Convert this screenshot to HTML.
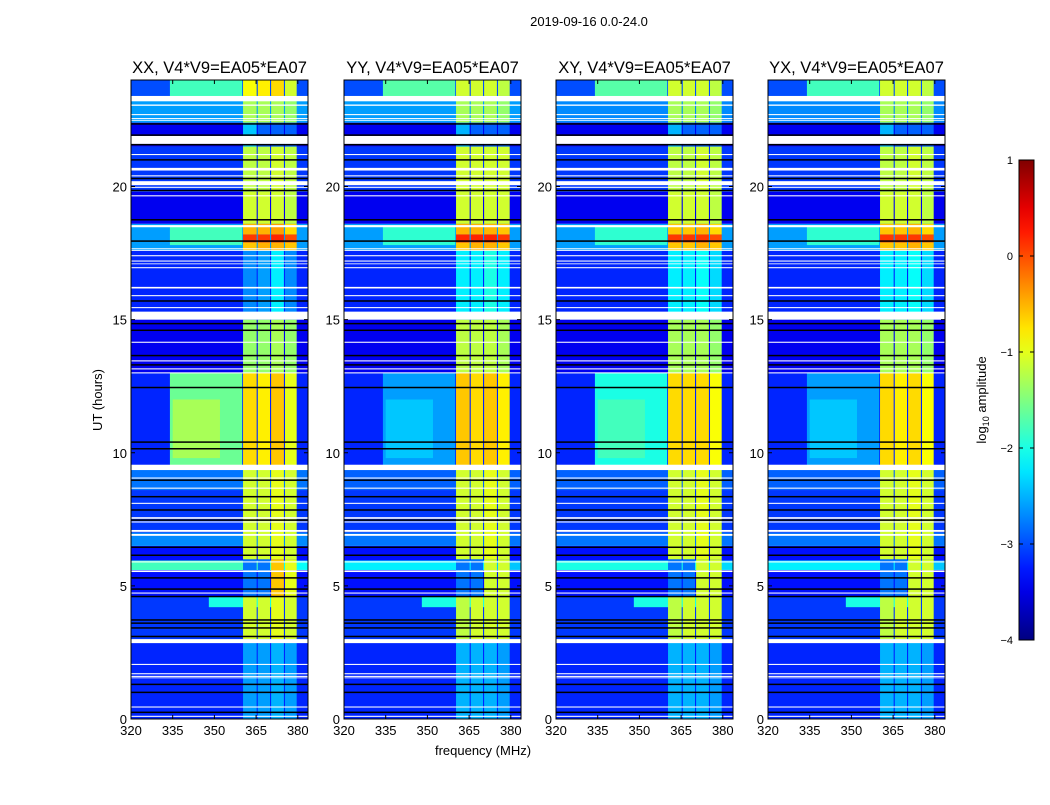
<!DOCTYPE html>
<html><head><meta charset="utf-8">
<style>
body{margin:0;background:#fff;width:1050px;height:800px;overflow:hidden;font-family:"Liberation Sans","DejaVu Sans",sans-serif;}
</style></head>
<body>
<svg id="fig" width="1050" height="800" xmlns="http://www.w3.org/2000/svg">
<text x="589" y="26" font-size="13" text-anchor="middle">2019-09-16 0.0-24.0</text>
<text x="483" y="755" font-size="13" text-anchor="middle">frequency (MHz)</text>
<text transform="translate(102,400) rotate(-90)" font-size="13" text-anchor="middle">UT (hours)</text>
<g id="panels"></g>
<g id="cbar"></g>
<text transform="translate(986,400) rotate(-90)" font-size="13" text-anchor="middle">log<tspan font-size="9" dy="3">10</tspan><tspan dy="-3"> amplitude</tspan></text>
</svg>
<script>
const panelNames = ["XX","YY","XY","YX"];
const panelLefts = [131,344,556,768];
const xTicks = [320,335,350,365,380];
const yTicks = [0,5,10,15,20];
const cbTicks = [1,0,-1,-2,-3,-4];
// background rows: [t0,t1,XX,YY,XY,YX]
const bgRows = [[0,3,-3.2,-3.2,-3.2,-3.2],[3,4.6,-3.1,-3.1,-3.1,-3.1],[4.6,5.6,-3.3,-3.3,-3.3,-3.3],[5.6,5.95,-2.1,-2.4,-2.3,-2.4],[5.95,6.5,-3.3,-3.3,-3.3,-3.3],[6.5,7.0,-2.7,-2.8,-2.8,-2.8],[7.0,8.6,-3.1,-3.1,-3.1,-3.1],[8.6,9.4,-2.8,-2.9,-2.9,-2.9],[9.4,13,-3.2,-3.2,-3.2,-3.2],[13,15,-3.45,-3.45,-3.45,-3.45],[15,17.6,-3.2,-3.2,-3.2,-3.2],[17.6,18.6,-2.6,-2.6,-2.6,-2.6],[18.6,19.8,-3.45,-3.45,-3.45,-3.45],[19.8,21.5,-3.1,-3.1,-3.1,-3.1],[21.5,22.4,-3.45,-3.45,-3.45,-3.45],[22.4,23.4,-2.6,-2.6,-2.7,-2.7],[23.4,24,-3.0,-3.0,-3.0,-3.0]];
// extra features: [t0,t1,f0,f1,XX,YY,XY,YX]
const features = [[9.5,13,334,360,-1.6,-2.6,-2.0,-2.6],[9.8,12,335,352,-1.3,-2.4,-1.8,-2.4],[17.8,18.5,334,360,-1.8,-1.9,-1.9,-1.9],[23.3,24,334,360,-1.8,-1.7,-1.7,-1.8],[4.2,4.6,348,374,-2.0,-2.0,-2.0,-2.0],[5.6,5.95,320,372,-1.8,-2.2,-2.0,-2.2]];
const bandEdges = [[360.3,365.2],[365.6,370],[370.4,375],[375.4,379.6]];
const bandRows = [[0,3],[3,4.6],[4.6,6],[6,9.4],[9.4,13],[13,15],[15,17.6],[17.6,17.9],[17.9,18.2],[18.2,18.6],[18.6,19.8],[19.8,21.5],[21.5,22.4],[22.4,23.4],[23.4,24]];
const bandXX = [[-2.6,-2.6,-2.5,-2.6],[-1.1,-1.1,-1.0,-1.1],[-2.8,-2.8,-0.6,-1.0],[-1.1,-1.1,-1.0,-1.1],[-0.7,-0.8,-0.6,-1.0],[-1.4,-1.4,-1.3,-1.4],[-2.7,-2.6,-2.2,-2.7],[-0.6,-0.5,-0.5,-0.6],[0.1,0.1,0.2,0.0],[-0.5,-0.5,-0.4,-0.7],[-1.1,-1.1,-1.1,-1.2],[-1.2,-1.2,-1.1,-1.2],[-2.4,-2.9,-2.9,-2.9],[-1.3,-1.3,-1.3,-1.4],[-0.9,-0.8,-0.7,-1.1]];
const bandYY = [[-2.5,-2.5,-2.5,-2.6],[-1.2,-1.1,-1.1,-1.1],[-2.8,-2.8,-1.1,-1.1],[-1.1,-1.1,-1.0,-1.1],[-0.6,-0.7,-0.6,-0.8],[-1.2,-1.2,-1.2,-1.3],[-2.2,-2.2,-2.0,-2.2],[-0.6,-0.5,-0.5,-0.6],[0.2,0.2,0.2,0.1],[-0.5,-0.5,-0.5,-0.6],[-1.1,-1.1,-1.1,-1.1],[-1.1,-1.1,-1.1,-1.1],[-2.5,-2.9,-2.9,-2.9],[-1.3,-1.3,-1.3,-1.4],[-1.1,-1.1,-1.1,-1.2]];
const bandXY = [[-2.5,-2.5,-2.5,-2.6],[-1.2,-1.1,-1.1,-1.1],[-2.8,-2.8,-1.1,-1.1],[-1.1,-1.1,-1.0,-1.1],[-0.7,-0.7,-0.7,-0.9],[-1.3,-1.3,-1.3,-1.4],[-2.2,-2.2,-2.1,-2.3],[-0.6,-0.6,-0.5,-0.6],[0.1,0.1,0.1,0.0],[-0.6,-0.6,-0.5,-0.7],[-1.1,-1.1,-1.1,-1.2],[-1.2,-1.2,-1.1,-1.2],[-2.5,-2.9,-2.9,-2.9],[-1.3,-1.3,-1.3,-1.4],[-1.1,-1.1,-1.1,-1.2]];
const bandYX = [[-2.5,-2.5,-2.5,-2.6],[-1.2,-1.1,-1.1,-1.1],[-2.8,-2.8,-1.1,-1.1],[-1.1,-1.1,-1.0,-1.1],[-0.7,-0.8,-0.7,-0.9],[-1.3,-1.3,-1.3,-1.4],[-2.2,-2.2,-2.1,-2.3],[-0.6,-0.6,-0.5,-0.6],[0.1,0.1,0.1,0.0],[-0.6,-0.6,-0.5,-0.7],[-1.1,-1.1,-1.1,-1.2],[-1.2,-1.2,-1.1,-1.2],[-2.5,-2.9,-2.9,-2.9],[-1.3,-1.3,-1.3,-1.4],[-1.1,-1.1,-1.1,-1.2]];
// flagged (white) intervals in hours
const flagRows = [[23.2,23.4],[23.03,23.08],[22.68,22.72],[22.53,22.57],[22.47,22.5],[21.6,21.9],[21.18,21.22],[20.6,20.7],[20.38,20.42],[20.05,20.2],[19.95,19.99],[19.63,19.67],[18.47,18.55],[17.64,17.68],[17.58,17.61],[17.38,17.42],[17.18,17.22],[17.08,17.11],[16.93,16.97],[16.17,16.23],[15.88,15.92],[15.43,15.47],[15.0,15.3],[14.13,14.17],[13.43,13.47],[13.13,13.17],[12.98,13.02],[9.35,9.55],[9.03,9.07],[8.65,8.69],[8.08,8.12],[7.52,7.58],[7.38,7.42],[7.03,7.1],[6.88,6.95],[5.88,5.92],[5.52,5.58],[4.71,4.75],[2.85,3.0],[2.03,2.07],[1.68,1.72],[1.58,1.62],[1.53,1.56],[0.43,0.47],[0.08,0.12]];
const blackRows = [22.35,21.93,21.57,21.0,20.3,19.85,18.75,17.95,15.7,14.85,14.6,13.65,13.3,12.45,10.4,10.15,8.97,8.35,7.85,7.47,6.45,6.15,5.3,4.88,4.6,3.72,3.6,3.42,3.1,1.3,1.0,0.25];

const NS="http://www.w3.org/2000/svg";
const PW=177, PT=80, PB=719, FMIN=320, FMAX=320+177/2.78, TMAX=24;
function el(tag,attrs,parent){const e=document.createElementNS(NS,tag);for(const k in attrs)e.setAttribute(k,attrs[k]);parent.appendChild(e);return e;}
function jet(v){let n=(v+4)/5;n=Math.max(0,Math.min(1,n));const c=x=>Math.round(255*Math.max(0,Math.min(1,x)));
 return `rgb(${c(1.5-Math.abs(4*n-3))},${c(1.5-Math.abs(4*n-2))},${c(1.5-Math.abs(4*n-1))})`;}
function yScale(t){return PB-(t/TMAX)*(PB-PT);}
const panelsG=document.getElementById('panels');
const bandSets=[bandXX,bandYY,bandXY,bandYX];
panelNames.forEach((nm,pi)=>{
 const L=panelLefts[pi];
 const xScale=f=>L+(f-FMIN)/(FMAX-FMIN)*PW;
 const g=el('g',{},panelsG);
 
 
 const t=el('text',{x:L+PW/2,y:73,'font-size':16.5,'text-anchor':'middle'},g);
 t.textContent=nm+', V4*V9=EA05*EA07';
 
 
 const hm=el('g',{},g);
 
 
 const rect=(t0,t1,f0,f1,fill)=>{const y0=yScale(t1),y1=yScale(t0);return el('rect',{x:xScale(f0),y:y0,width:xScale(f1)-xScale(f0),height:y1-y0,fill:fill},hm);};
 bgRows.forEach(r=>{const c=rect(r[0],r[1],FMIN,FMAX,jet(r[2+pi]));});
 features.forEach(r=>{const c=rect(r[0],r[1],r[2],r[3],jet(r[4+pi]));});
 bandRows.forEach((br,ri)=>{bandEdges.forEach((be,bi)=>{const c=rect(br[0],br[1],be[0],be[1],jet(bandSets[pi][ri][bi]));});});
 flagRows.forEach(fr=>{const c=rect(fr[0],fr[1],FMIN,FMAX,'#fff');});
 blackRows.forEach(b=>{const y=yScale(b);const c=el('rect',{x:L,y:y-0.75,width:PW,height:1.5,fill:'#000'},hm);});
 const fr=el('rect',{x:L,y:PT,width:PW,height:PB-PT,fill:'none',stroke:'#000','stroke-width':1},g);
 
 
 xTicks.forEach(v=>{const x=xScale(v);
  el('line',{x1:x,x2:x,y1:PB,y2:PB-4,stroke:'#000'},g);el('line',{x1:x,x2:x,y1:PT,y2:PT+4,stroke:'#000'},g);
  const tx=el('text',{x:x,y:PB+16,'font-size':13,'text-anchor':'middle'},g);tx.textContent=v;
  });
 yTicks.forEach(v=>{const y=yScale(v);
  el('line',{x1:L,x2:L+4,y1:y,y2:y,stroke:'#000'},g);el('line',{x1:L+PW,x2:L+PW-4,y1:y,y2:y,stroke:'#000'},g);
  const ty=el('text',{x:L-4,y:y+5,'font-size':13,'text-anchor':'end'},g);ty.textContent=v;
  });
});
// colorbar
const cb=document.getElementById('cbar');
const CX=1019,CW=15,CT=160,CB=640;
const cy=v=>CB-(v+4)/5*(CB-CT);
const defs=el('defs',{},cb);
const lg=el('linearGradient',{id:'jetg',x1:0,y1:1,x2:0,y2:0},defs);
for(let i=0;i<=20;i++){const v=-4+i*5/20;el('stop',{offset:i/20,'stop-color':jet(v)},lg);}
el('rect',{x:CX,y:CT,width:CW,height:CB-CT,fill:'url(#jetg)',stroke:'#000'},cb);
cbTicks.forEach(v=>{const y=cy(v);
 el('line',{x1:CX,x2:CX+4,y1:y,y2:y,stroke:'#000'},cb);el('line',{x1:CX+CW,x2:CX+CW-4,y1:y,y2:y,stroke:'#000'},cb);
 const t=el('text',{x:1013,y:y+4,'font-size':11,'text-anchor':'end'},cb);t.textContent=v<0?'\u2212'+(-v):String(v);
 });
</script>
</body></html>
